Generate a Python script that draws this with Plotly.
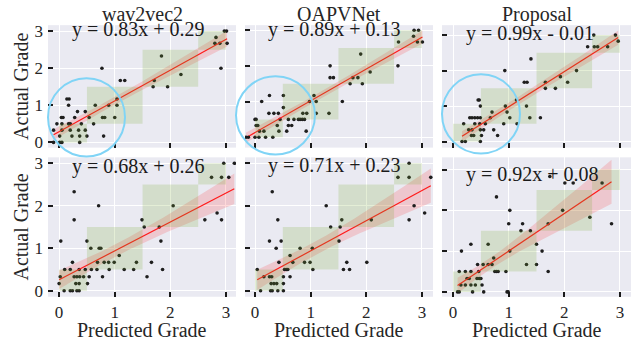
import numpy as np
import plotly.graph_objects as go

# ---------------- data ----------------
models = ["wav2vec2", "OAPVNet", "Proposal"]

w2v_top_pred = [2.97, 3.01, 2.82, 2.80, 2.89, 3.02, 1.84, 0.77, 2.91, 2.19, 1.10, 1.18, 1.71, 1.69, 1.95,
                0.14, 0.18, 1.04, 0.17, 0.65, 0.89, 1.04, 0.33, 0.47, 0.04, 0.07, 0.28, 0.54, 0.78, 0.82,
                1.00, -0.04, 0.05, 0.17, 0.20, 0.40, 0.62, -0.10, 0.05, 0.20, 0.35, 0.47, 0.01, 0.23, 0.37,
                0.50, 0.80, -0.10, 0.01, 0.05, 0.37]
w2v_top_actual = [3, 3, 2.83, 2.67, 2.67, 2.67, 2.33, 2, 2, 1.83, 1.67, 1.67, 1.67, 1.5, 1.5,
                  1.17, 1.17, 1.17, 1, 1, 1, 1, 0.83, 0.83, 0.67, 0.67, 0.67, 0.67, 0.67, 0.67,
                  0.67, 0.5, 0.5, 0.5, 0.5, 0.5, 0.5, 0.33, 0.33, 0.33, 0.33, 0.33, 0.17, 0.17, 0.17,
                  0.17, 0.17, 0, 0, 0, 0]

oap_top_pred = [2.86, 2.94, 2.85, 2.58, 2.92, 3.01, 1.90, 2.57, 1.35, 2.07, 1.35, 1.41, 1.76, 1.85,
                1.71, 1.93, 1.06, 0.51, 0.26, 0.98, 1.10, 1.57, 0.12, 0.51,
                0.25, 0.34, 0.42, 0.86, 0.93, 1.10, 1.33,
                0.00, 0.02, 0.45, 0.60, 0.70, 0.78, 0.81, 0.85, 0.89,
                0.02, 0.05, 0.40, 0.60, 0.66,
                0.08, 0.16, 0.43, 0.57, 0.92,
                -0.16, -0.12, 0.00, 0.07, 0.19, 0.32]
oap_top_actual = [3, 3, 2.83, 2.67, 2.67, 2.67, 2.33, 2, 2, 1.83, 1.67, 1.67, 1.67, 1.67,
                  1.5, 1.5, 1.17, 1.17, 1.17, 1, 1, 1, 1, 0.83,
                  0.67, 0.67, 0.67, 0.67, 0.67, 0.67, 0.67,
                  0.5, 0.5, 0.5, 0.5, 0.5, 0.5, 0.5, 0.5, 0.5,
                  0.33, 0.33, 0.33, 0.33, 0.33,
                  0.17, 0.17, 0.17, 0.17, 0.17,
                  0, 0, 0, 0, 0, 0]

pro_top_pred = [2.53, 2.92, 2.97, 2.42, 2.54, 2.60, 2.78, 1.40, 0.93, 2.22, 1.93,
                1.28, 1.33, 1.66, 2.06, 1.66, 1.84, 0.45, 0.47, 1.14, 0.49, 0.94, 1.32, 0.70, 0.97,
                0.30, 0.34, 0.39, 0.44, 0.49, 0.67, 1.02, 1.38, 1.57,
                0.19, 0.39, 0.48, 0.58, 0.91, 1.15,
                0.28, 0.34, 0.49, 0.55, 0.73,
                0.33, 0.37, 0.51, 0.80,
                0.16, 0.22, 0.49]
pro_top_actual = [3, 3, 2.83, 2.67, 2.67, 2.67, 2.67, 2.33, 2, 2, 1.83,
                  1.67, 1.67, 1.67, 1.67, 1.5, 1.5, 1.17, 1.17, 1.17, 1, 1, 1, 0.83, 0.83,
                  0.67, 0.67, 0.67, 0.67, 0.67, 0.67, 0.67, 0.67, 0.67,
                  0.5, 0.5, 0.5, 0.5, 0.5, 0.5,
                  0.33, 0.33, 0.33, 0.33, 0.33,
                  0.17, 0.17, 0.17, 0.17,
                  0, 0, 0]

w2v_bot_pred = [2.96, 3.15, 2.74, 2.92, 3.05, 0.27, 0.71, 2.05, 2.84, 0.27, 1.49, 2.62, 2.92,
                1.53, 1.80, 0.03, 0.50, 1.83, 0.57, 0.72, 0.75, 1.08,
                0.24, 0.69, 0.81, 0.89, 0.99, 1.39, 1.66,
                0.10, 0.20, 0.36, 0.47, 0.58, 0.68, 0.90, 1.17, 1.34, 1.86,
                0.02, 0.27, 0.32, 0.37, 0.44, 0.54, 0.78, 1.58,
                0.00, 0.30, 0.36, 0.51,
                0.09, 0.20, 0.24, 0.32, 0.36]
w2v_bot_actual = [3, 3, 2.67, 2.67, 2.67, 2.33, 2, 2, 1.83, 1.67, 1.67, 1.67, 1.67,
                  1.5, 1.5, 1.17, 1.17, 1.17, 1, 1, 1, 0.83,
                  0.67, 0.67, 0.67, 0.67, 0.67, 0.67, 0.67,
                  0.5, 0.5, 0.5, 0.5, 0.5, 0.5, 0.5, 0.5, 0.5, 0.5,
                  0.33, 0.33, 0.33, 0.33, 0.33, 0.33, 0.33, 0.33,
                  0.17, 0.17, 0.17, 0.17,
                  0, 0, 0, 0, 0]

oap_bot_pred = [2.77, 2.57, 2.77, 3.16, 0.31, 1.28, 2.86, 3.05, 0.41, 1.56, 2.09, 2.77,
                1.36, 1.53, 0.26, 0.47, 1.51, 0.38, 0.81, 1.03, 0.63,
                0.43, 0.68, 0.89, 0.99, 1.65, 2.01,
                0.04, 0.53, 0.56, 0.59, 1.04, 1.59, 1.70,
                0.16, 0.26, 0.30, 0.51, 0.63,
                0.29, 0.34, 0.39, 0.51,
                0.10, 0.28, 0.31, 0.41, 0.51]
oap_bot_actual = [3, 2.67, 2.67, 2.67, 2.33, 2, 2, 1.83, 1.67, 1.67, 1.67, 1.67,
                  1.5, 1.5, 1.17, 1.17, 1.17, 1, 1, 1, 0.83,
                  0.67, 0.67, 0.67, 0.67, 0.67, 0.67,
                  0.5, 0.5, 0.5, 0.5, 0.5, 0.5, 0.5,
                  0.33, 0.33, 0.33, 0.33, 0.33,
                  0.17, 0.17, 0.17, 0.17,
                  0, 0, 0, 0, 0]

pro_bot_pred = [1.74, 2.01, 2.16, 2.68, 0.78, 1.02, 1.97, 2.46, 1.00, 1.25, 1.71, 2.85,
                1.22, 1.39, 0.32, 0.63, 1.50, 0.15, 1.02, 1.60, 0.73,
                0.44, 0.54, 0.63, 0.70, 1.32, 1.50,
                0.11, 0.22, 0.32, 0.46, 0.75, 0.78, 0.81, 0.95, 1.71,
                0.25, 0.29, 0.43, 0.47, 0.50,
                0.14, 0.22, 0.32, 0.40, 0.52,
                0.08, 0.11, 0.35, 0.55, 0.97, 0.99]
pro_bot_actual = [2.83, 2.67, 2.67, 2.67, 2.33, 2, 2, 1.83, 1.67, 1.67, 1.67, 1.67,
                  1.5, 1.5, 1.17, 1.17, 1.17, 1, 1, 1, 0.83,
                  0.67, 0.67, 0.67, 0.67, 0.67, 0.67,
                  0.5, 0.5, 0.5, 0.5, 0.5, 0.5, 0.5, 0.5, 0.5,
                  0.33, 0.33, 0.33, 0.33, 0.33,
                  0.17, 0.17, 0.17, 0.17, 0.17,
                  0, 0, 0, 0, 0, 0]

slopes = [0.83, 0.89, 0.99, 0.68, 0.71, 0.92]
intercepts = [0.29, 0.13, -0.01, 0.26, 0.23, 0.08]
grade_bins = [0, 0.5, 1.5, 2.5, 3]
tick_vals = [0, 1, 2, 3]
tick_text = ["0", "1", "2", "3"]

panels = [
    (w2v_top_pred, w2v_top_actual),
    (oap_top_pred, oap_top_actual),
    (pro_top_pred, pro_top_actual),
    (w2v_bot_pred, w2v_bot_actual),
    (oap_bot_pred, oap_bot_actual),
    (pro_bot_pred, pro_bot_actual),
]

# ---------------- layout geometry ----------------
W, H = 643, 347
col_px = [(48, 236), (245, 433), (442, 631)]
row_px = [(22.7, 148), (158, 300.7)]
x_ranges = [[-0.2, 3.18], [-0.18, 3.2], [-0.2, 3.2], [-0.2, 3.18], [-0.18, 3.2], [-0.2, 3.2]]
y_ranges = [[-0.14, 3.16], [-0.29, 3.14], [-0.17, 3.28], [-0.14, 3.14], [-0.14, 3.14], [-0.12, 3.3]]
eq_y = [3.05, 3.02, 3.05, 2.93, 2.94, 2.87]

FONT = "Liberation Serif, Times New Roman, DejaVu Serif, serif"
TXT = "#262626"

fig = go.Figure()
shapes = []
annotations = []
layout = dict(
    width=W, height=H, margin=dict(l=0, r=0, t=0, b=0),
    paper_bgcolor="white", plot_bgcolor="#EAEAF2", showlegend=False,
    font=dict(family=FONT, color=TXT),
)


def hc_band(x, y, a, b, xs):
    x = np.asarray(x, float)
    y = np.asarray(y, float)
    X = np.column_stack([np.ones_like(x), x])
    e = y - (a * x + b)
    n = len(x)
    bread = np.linalg.inv(X.T @ X)
    meat = X.T @ (X * (e ** 2)[:, None])
    V = bread @ meat @ bread * n / (n - 2)
    G = np.column_stack([np.ones_like(xs), xs])
    var = np.einsum("ij,jk,ik->i", G, V, G)
    return 1.96 * np.sqrt(var)


for i, (xp, ya) in enumerate(panels):
    r, c = divmod(i, 3)
    k = i + 1
    xa = "x" if k == 1 else f"x{k}"
    yax = "y" if k == 1 else f"y{k}"
    a, b = slopes[i], intercepts[i]
    xs = np.linspace(min(xp), max(xp), 120)
    yl = a * xs + b
    hw = hc_band(xp, ya, a, b, xs)

    fig.add_trace(go.Scatter(
        x=np.concatenate([xs, xs[::-1]]), y=np.concatenate([yl + hw, (yl - hw)[::-1]]),
        fill="toself", fillcolor="rgba(255,0,0,0.15)", line=dict(width=0),
        mode="lines", hoverinfo="skip", xaxis=xa, yaxis=yax))
    fig.add_trace(go.Scatter(
        x=xp, y=ya, mode="markers",
        marker=dict(size=3.6, color="#1e1e1e", line=dict(width=0)),
        xaxis=xa, yaxis=yax))
    fig.add_trace(go.Scatter(
        x=xs, y=yl, mode="lines", line=dict(color="#ff1a1a", width=1.2),
        xaxis=xa, yaxis=yax))

    x0p, x1p = col_px[c]
    y0p, y1p = row_px[r]
    axkey = "xaxis" if k == 1 else f"xaxis{k}"
    aykey = "yaxis" if k == 1 else f"yaxis{k}"
    common = dict(
        showgrid=True, gridcolor="white", gridwidth=1.3, zeroline=False, showline=False,
        ticks="inside", ticklen=5, tickwidth=2, tickcolor="#1a1a1a",
        tickvals=tick_vals, ticktext=tick_text,
        tickfont=dict(family=FONT, size=17, color=TXT),
    )
    layout[axkey] = dict(common, domain=[x0p / W, x1p / W], range=x_ranges[i],
                         anchor=yax, showticklabels=(r == 1), ticklabelstandoff=3)
    layout[aykey] = dict(common, domain=[1 - y1p / H, 1 - y0p / H], range=y_ranges[i],
                         anchor=xa, showticklabels=(c == 0), ticklabelstandoff=4)

    for j in range(len(grade_bins) - 1):
        shapes.append(dict(
            type="rect", xref=xa, yref=yax,
            x0=grade_bins[j], x1=grade_bins[j + 1], y0=grade_bins[j], y1=grade_bins[j + 1],
            fillcolor="rgba(120,170,50,0.2)", line=dict(width=0), layer="above"))

    sign = "+" if b >= 0 else "-"
    annotations.append(dict(
        text=f"y = {a:.2f}x {sign} {abs(b):.2f}", xref=xa, yref=yax,
        x=0.2, y=eq_y[i], xanchor="left", yanchor="middle", showarrow=False,
        font=dict(family=FONT, size=20, color="#1a1a1a")))

    if r == 0:
        annotations.append(dict(
            text=models[c], xref="paper", yref="paper",
            x=(x0p + x1p) / 2 / W, y=1 - 11.5 / H, xanchor="center", yanchor="middle",
            showarrow=False, font=dict(family=FONT, size=20, color=TXT)))
    if r == 1:
        annotations.append(dict(
            text="Predicted Grade", xref="paper", yref="paper",
            x=(x0p + x1p) / 2 / W, y=1 - 335 / H, xanchor="center", yanchor="middle",
            showarrow=False, font=dict(family=FONT, size=20, color=TXT)))
    if c == 0:
        annotations.append(dict(
            text="Actual Grade", xref="paper", yref="paper", textangle=-90,
            x=21.5 / W, y=1 - (y0p + y1p) / 2 / H, xanchor="center", yanchor="middle",
            showarrow=False, font=dict(family=FONT, size=20, color=TXT)))

# highlight circles around the low-grade region (top row)
circle_px = [(48, 77, 125, 157), (236, 75, 315, 155), (442, 73, 520, 154)]
for (cx0, cy0, cx1, cy1) in circle_px:
    shapes.append(dict(
        type="circle", xref="paper", yref="paper",
        x0=cx0 / W, x1=cx1 / W, y0=1 - cy1 / H, y1=1 - cy0 / H,
        line=dict(color="#80d4f6", width=2), layer="above"))

layout["shapes"] = shapes
layout["annotations"] = annotations
fig.update_layout(**layout)
fig.write_html(
    "out.html",
    config={"displayModeBar": False},
    post_script="document.body.style.margin='0';document.body.style.overflow='hidden';",
)
